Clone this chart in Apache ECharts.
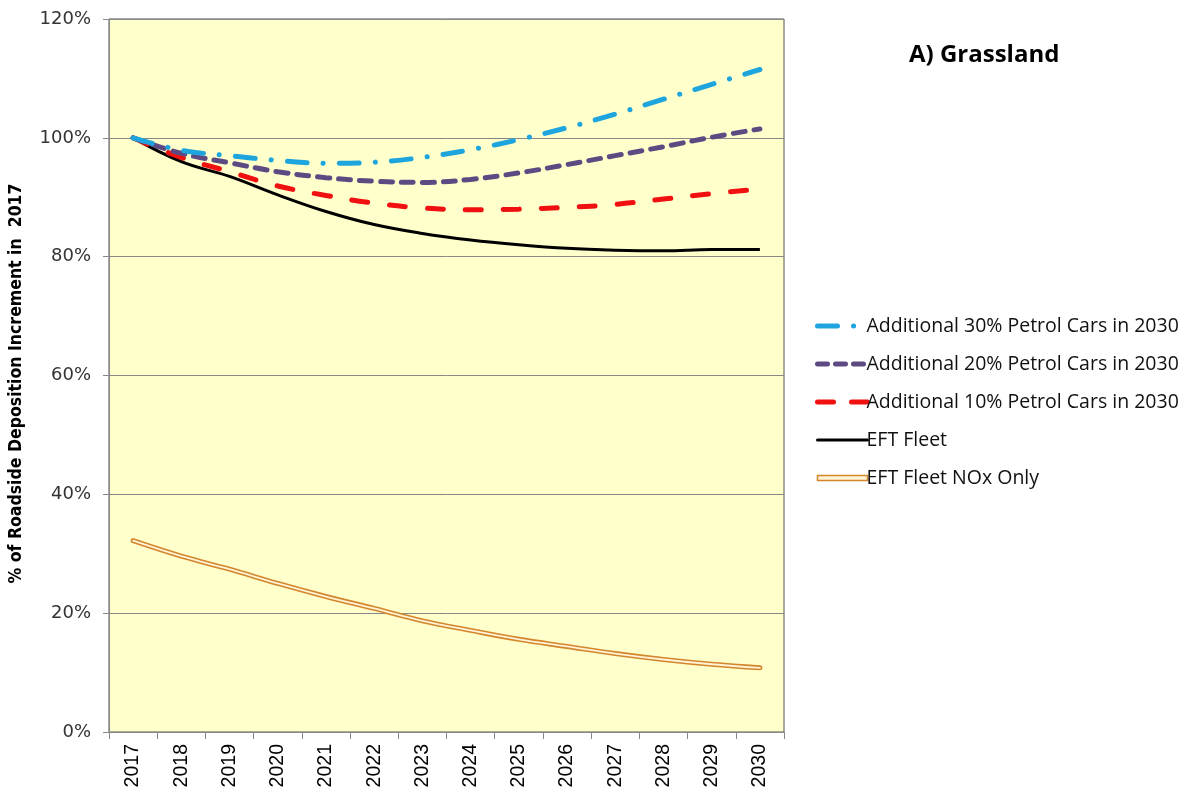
<!DOCTYPE html>
<html>
<head>
<meta charset="utf-8">
<script src="https://cdn.jsdelivr.net/npm/echarts@6/dist/echarts.min.js"></script>
<style>html,body{margin:0;padding:0;background:#fff;}#c{width:1191px;height:796px;}</style>
</head>
<body>
<div id="c"></div>
<script>
const years = ['2017','2018','2019','2020','2021','2022','2023','2024','2025','2026','2027','2028','2029','2030'];
const petrol30 = [100, 97.9, 97.0, 96.2, 95.7, 95.9, 96.7, 98.0, 99.7, 101.7, 104.0, 106.5, 109.0, 111.5];
const petrol20 = [100, 97.4, 95.8, 94.3, 93.3, 92.7, 92.5, 93.0, 94.1, 95.5, 97.0, 98.5, 100.1, 101.5];
const petrol10 = [100, 96.7, 94.3, 91.9, 90.3, 89.0, 88.2, 87.9, 88.0, 88.3, 88.8, 89.7, 90.6, 91.4];
const eftFleet = [100, 96.0, 93.5, 90.4, 87.6, 85.4, 83.9, 82.8, 82.0, 81.4, 81.1, 81.0, 81.2, 81.2];
const eftNox = [32.2, 29.6, 27.4, 25.0, 22.8, 20.8, 18.7, 17.1, 15.6, 14.4, 13.2, 12.2, 11.4, 10.8];
const yTicks = [0, 20, 40, 60, 80, 100, 120];

const names = ['Additional 30% Petrol Cars in 2030','Additional 20% Petrol Cars in 2030','Additional 10% Petrol Cars in 2030','EFT Fleet','EFT Fleet NOx Only'];

const chart = echarts.init(document.getElementById('c'));
chart.setOption({
  animation: false,
  title: {
    text: 'A) Grassland', left: 904, top: 38,
    textStyle: {fontFamily: 'Open Sans', fontWeight: 'bold', fontSize: 24, color: '#000'}
  },
  grid: {left: 109, top: 19, right: 407, bottom: 64, outerBoundsMode: 'none', containLabel: false,
         show: true, backgroundColor: '#FFFFCC', borderColor: '#555', borderWidth: 1},
  legend: {
    orient: 'vertical', left: 810, top: 311, itemWidth: 50, itemHeight: 14, itemGap: 18,
    itemStyle: {opacity: 0},
    lineStyle: {width: 'inherit', type: 'inherit', cap: 'round'},
    textStyle: {fontFamily: 'Open Sans', fontSize: 19.5, color: '#111', padding: [0,0,0,-6]},
    data: [
      {name: names[0], lineStyle: {width: 5, type: [20, 16, 0.1, 16], cap: 'round'}},
      {name: names[1], lineStyle: {width: 5, type: [10, 8], cap: 'round'}},
      {name: names[2], lineStyle: {width: 5, type: [16, 18], cap: 'round'}},
      {name: names[3], lineStyle: {width: 3}},
      {name: names[4], icon: 'path://M0,0 L50,0 L50,5 L0,5 Z', itemStyle: {opacity: 1, color: '#FFF3D6', borderColor: '#D4862C', borderWidth: 1.5}}
    ]
  },
  xAxis: {
    type: 'category', data: years, boundaryGap: true,
    axisLine: {lineStyle: {color: '#888', width: 1}},
    axisTick: {show: true, length: 7, lineStyle: {color: '#888'}},
    axisLabel: {rotate: 90, fontFamily: 'Liberation Sans', fontSize: 19.5, color: '#000', margin: 12}
  },
  yAxis: {
    type: 'value', min: 0, max: 120, interval: 20,
    name: '% of Roadside Deposition Increment in  2017', nameLocation: 'middle', nameGap: 84, nameRotate: 90,
    nameTextStyle: {fontFamily: 'Liberation Sans Narrow, DejaVu Sans Condensed', fontWeight: 'bold', fontSize: 17.5, color: '#000', padding: [0,0,0,-16]},
    axisLine: {show: true, lineStyle: {color: '#888'}},
    axisTick: {show: true, length: 6, lineStyle: {color: '#888'}},
    axisLabel: {formatter: v => yTicks.includes(v) ? v + '%' : '', fontFamily: 'DejaVu Sans', fontSize: 18, color: '#333', margin: 18},
    splitLine: {lineStyle: {color: '#888', width: 1}}
  },
  series: [
    {name: names[0], type: 'line', data: petrol30, smooth: 0.4, symbol: 'none', z: 5,
     itemStyle: {color: '#1EA5DE'},
     lineStyle: {color: '#1EA5DE', width: 5, type: [20, 16, 0.1, 16], cap: 'round'}},
    {name: names[1], type: 'line', data: petrol20, smooth: 0.4, symbol: 'none', z: 4,
     itemStyle: {color: '#5E4A82'},
     lineStyle: {color: '#5E4A82', width: 5, type: [12, 9], cap: 'round'}},
    {name: names[2], type: 'line', data: petrol10, smooth: 0.4, symbol: 'none', z: 3,
     itemStyle: {color: '#F01010'},
     lineStyle: {color: '#F01010', width: 5, type: [16, 22], cap: 'round'}},
    {name: names[3], type: 'line', data: eftFleet, smooth: 0.4, symbol: 'none', z: 2,
     itemStyle: {color: '#000'},
     lineStyle: {color: '#000', width: 3}},
    {name: names[4], type: 'line', data: eftNox, smooth: 0.4, symbol: 'none', z: 2,
     itemStyle: {color: '#D4862C'},
     lineStyle: {color: '#D4862C', width: 5, cap: 'round'}},
    {name: 'nox-inner', type: 'line', data: eftNox, smooth: 0.4, symbol: 'none', z: 3, silent: true,
     lineStyle: {color: '#FFF3D6', width: 1.8, cap: 'round'}}
  ]
});
</script>
</body>
</html>
